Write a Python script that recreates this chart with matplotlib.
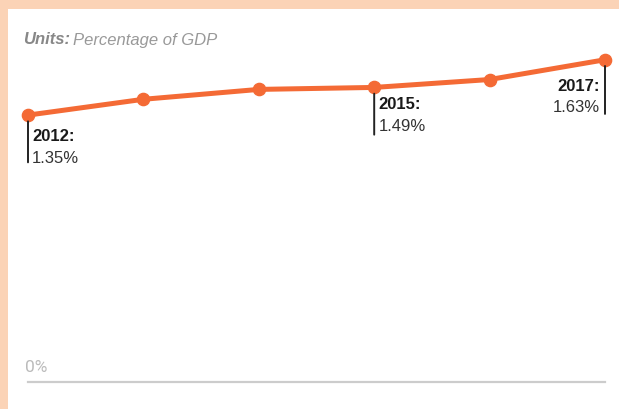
import matplotlib.pyplot as plt
from matplotlib.patches import Rectangle

# data
years = [2012, 2013, 2014, 2015, 2016, 2017]
values = [1.35, 1.43, 1.48, 1.49, 1.53, 1.63]
labelled = [2012, 2015, 2017]

plt.rcParams['font.family'] = ['Liberation Sans', 'DejaVu Sans']

W, H = 619, 410
fig = plt.figure(figsize=(W / 100, H / 100), dpi=100)
fig.patch.set_facecolor('#fbd3b6')
fig.patches.append(Rectangle((8 / W, 0), 1, (H - 10) / H, transform=fig.transFigure,
                             facecolor='white', edgecolor='none', zorder=-10))

# axes placed in pixels: x 28..605, y-zero at 383 px, ~197.7 px per unit
ymax = 1.7
ax = fig.add_axes([28 / W, (H - 383) / H, 577 / W, ymax * 197.7 / H])
ax.set_xlim(years[0], years[-1])
ax.set_ylim(0, ymax)
ax.axis('off')
ax.patch.set_alpha(0)

ax.plot(years, values, color='#f46a35', lw=3.6, marker='o', ms=8.8,
        solid_capstyle='round', clip_on=False, zorder=3)

# zero baseline + label
ax.plot([years[0], years[-1]], [0, 0], color='#cccccc', lw=1.6, clip_on=False)
ax.annotate('0%', (years[0], 0), xytext=(-2.5, 6), textcoords='offset points',
            fontsize=12.5, color='#bbbbbb', fontfamily='Roboto', va='bottom', ha='left')

# units text
fig.text(23 / W, 1 - 40 / H, 'Units:', fontsize=12, style='italic', weight='bold',
         color='#888888', va='center')
fig.text(73 / W, 1 - 40 / H, 'Percentage of GDP', fontsize=12, style='italic',
         color='#999999', va='center')

# point annotations: (text top offset, line length) in points
ann_layout = {2012: (-9.5, 34), 2015: (-6.5, 34), 2017: (-13, 39)}
for yr in labelled:
    v = values[years.index(yr)]
    right = yr == years[-1]
    top, drop = ann_layout[yr]
    ax.annotate('', (yr, v), xytext=(0, -drop), textcoords='offset points',
                arrowprops=dict(arrowstyle='-', color='#222222', lw=1.4,
                                shrinkA=0, shrinkB=4.5))
    dx = -3.5 if right else 3.0
    ha = 'right' if right else 'left'
    ax.annotate('%d:' % yr, (yr, v), xytext=(dx, top), textcoords='offset points',
                fontsize=12, weight='bold', color='#1a1a1a', ha=ha, va='top')
    ax.annotate('%.2f%%' % v, (yr, v), xytext=(dx, top - 15.5), textcoords='offset points',
                fontsize=12, color='#333333', ha=ha, va='top')

fig.savefig('out.png', dpi=100)
